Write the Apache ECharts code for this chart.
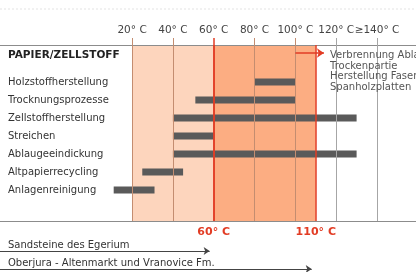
<!DOCTYPE html>
<html style="height: 100%">
<head>
    <meta charset="UTF-8">
    <title>Papier/Zellstoff Temperaturen</title>
</head>
<body style="height: 100%; margin: 0">
    <div id="container" style="width: 416px; height: 272px"></div>

    <script src="https://cdn.jsdelivr.net/npm/echarts@6/dist/echarts.min.js"></script>

    <script type="text/javascript">
        // Temperaturskala
        var tickValues = [20, 40, 60, 80, 100, 120, 140];
        var tickLabels = ['20° C', '40° C', '60° C', '80° C', '100° C', '120° C', '≥140° C'];
        var redLines = [60, 110];
        var redLabels = ['60° C', '110° C'];

        // Prozesse (Temperaturbereich von - bis)
        var processes = ['Holzstoffherstellung', 'Trocknungsprozesse', 'Zellstoffherstellung', 'Streichen',
            'Ablaugeeindickung', 'Altpapierrecycling', 'Anlagenreinigung'];
        var rangeStart = [80, 51, 40, 40, 40, 25, 11];
        var rangeEnd = [100, 100, 130, 60, 130, 45, 31];

        // Speicherhorizonte (max. Temperatur)
        var aquifers = ['Sandsteine des Egerium', 'Oberjura - Altenmarkt und Vranovice Fm.'];
        var aquiferMax = [58, 108];

        // Hinweis rechts oben
        var noteFrom = 100, noteTo = 114;
        var noteLines = ['Verbrennung Ablauge', 'Trockenpartie', 'Herstellung Faser- und', 'Spanholzplatten'];

        var xMin = -44.7, xMax = 159.1;
        var font = 'DejaVu Sans';
        var red = '#e23c24';

        var dom = document.getElementById('container');
        var myChart = echarts.init(dom);

        var rangeLen = rangeEnd.map(function (v, i) { return v - rangeStart[i]; });

        function lineColor(v) {
            if (v === 60) return red;
            return v <= 100 ? '#c48d70' : '#a6a6a6';
        }

        var option = {
            animation: false,
            textStyle: {fontFamily: font},
            title: [
                {
                    text: 'PAPIER/ZELLSTOFF', left: 8, top: 50, padding: 0,
                    textStyle: {fontSize: 10.5, fontWeight: 'bold', color: '#222', fontFamily: font}
                },
                {
                    text: noteLines.join('\n'), left: 330, top: 50, padding: 0,
                    textStyle: {fontSize: 10, lineHeight: 10.7, fontWeight: 'normal', color: '#555', fontFamily: font}
                }
            ],
            graphic: [
                {type: 'line', shape: {x1: 0, y1: 9, x2: 416, y2: 9}, style: {stroke: '#e4e4e4', lineDash: [2, 2]}, silent: true}
            ],
            grid: [
                {left: 0, right: 0, top: 38, bottom: 51},
                {left: 0, right: 0, top: 73, bottom: 73},
                {left: 0, right: 0, top: 233, bottom: 3}
            ],
            xAxis: [
                {gridIndex: 0, type: 'value', min: xMin, max: xMax, show: false},
                {
                    gridIndex: 0, type: 'value', position: 'bottom', min: xMin, max: xMax,
                    axisLine: {show: true, lineStyle: {color: '#8c8c8c'}},
                    axisTick: {show: false}, axisLabel: {show: false}, splitLine: {show: false}
                },
                {gridIndex: 1, type: 'value', min: xMin, max: xMax, show: false},
                {gridIndex: 2, type: 'value', min: xMin, max: xMax, show: false}
            ],
            yAxis: [
                {gridIndex: 0, type: 'value', min: -7, max: 176, inverse: true, show: false},
                {
                    gridIndex: 1, type: 'category', inverse: true, data: processes,
                    axisLine: {show: false}, axisTick: {show: false},
                    axisLabel: {inside: true, margin: 8, fontSize: 10, color: '#333', fontFamily: font}
                },
                {gridIndex: 2, type: 'value', min: 0, max: 2, inverse: true, show: false}
            ],
            series: [
                {
                    type: 'scatter', xAxisIndex: 0, yAxisIndex: 0, data: [], silent: true,
                    markArea: {
                        silent: true,
                        data: [
                            [{coord: [20, 0], itemStyle: {color: '#fdd5bd'}}, {coord: [60, 176]}],
                            [{coord: [60, 0], itemStyle: {color: '#fcad82'}}, {coord: [110, 176]}]
                        ]
                    },
                    markLine: {
                        silent: true, symbol: 'none',
                        data: [[
                            {coord: [xMin, 0], label: {show: false}, lineStyle: {type: 'solid', width: 1, color: '#8c8c8c'}},
                            {coord: [xMax, 0]}
                        ]].concat(tickValues.map(function (v, i) {
                            return [
                                {
                                    coord: [v, 176],
                                    lineStyle: {type: 'solid', width: v === 60 ? 1.5 : 1, color: lineColor(v)},
                                    label: {
                                        show: true, position: 'end', distance: 2, formatter: tickLabels[i],
                                        color: '#444', fontSize: 10.5, fontFamily: font
                                    }
                                },
                                {coord: [v, -7]}
                            ];
                        })).concat(redLines.map(function (v, i) {
                            return [
                                {
                                    coord: [v, 176], lineStyle: {type: 'solid', width: 1.5, color: red},
                                    label: {
                                        show: true, position: 'start', distance: 6, formatter: redLabels[i],
                                        color: red, fontWeight: 'bold', fontSize: 11, fontFamily: font
                                    }
                                },
                                {coord: [v, 0]}
                            ];
                        })).concat([[
                            {
                                coord: [noteFrom, 8], symbol: 'none', label: {show: false},
                                lineStyle: {type: 'solid', width: 1.5, color: red}
                            },
                            {coord: [noteTo, 8], symbol: 'arrow', symbolSize: 7}
                        ]])
                    }
                },
                {
                    name: 'base', type: 'bar', stack: 'r', xAxisIndex: 2, yAxisIndex: 1,
                    data: rangeStart, barWidth: 7, silent: true,
                    itemStyle: {color: 'transparent'}
                },
                {
                    name: 'range', type: 'bar', stack: 'r', xAxisIndex: 2, yAxisIndex: 1,
                    data: rangeLen, barWidth: 7, silent: true,
                    itemStyle: {color: '#5a5a5a'}
                },
                {
                    type: 'scatter', xAxisIndex: 3, yAxisIndex: 2, data: [], silent: true,
                    markLine: {
                        silent: true, symbol: ['none', 'arrow'], symbolSize: 6,
                        lineStyle: {type: 'solid', width: 1, color: '#444'},
                        label: {
                            show: true, position: 'insideStartTop', formatter: '{b}', distance: [8, 1],
                            fontSize: 10, color: '#333', fontFamily: font
                        },
                        data: aquifers.map(function (name, i) {
                            return [{name: name, coord: [xMin, i + 1]}, {coord: [aquiferMax[i], i + 1]}];
                        })
                    }
                }
            ]
        };

        myChart.setOption(option);
    </script>
</body>
</html>
